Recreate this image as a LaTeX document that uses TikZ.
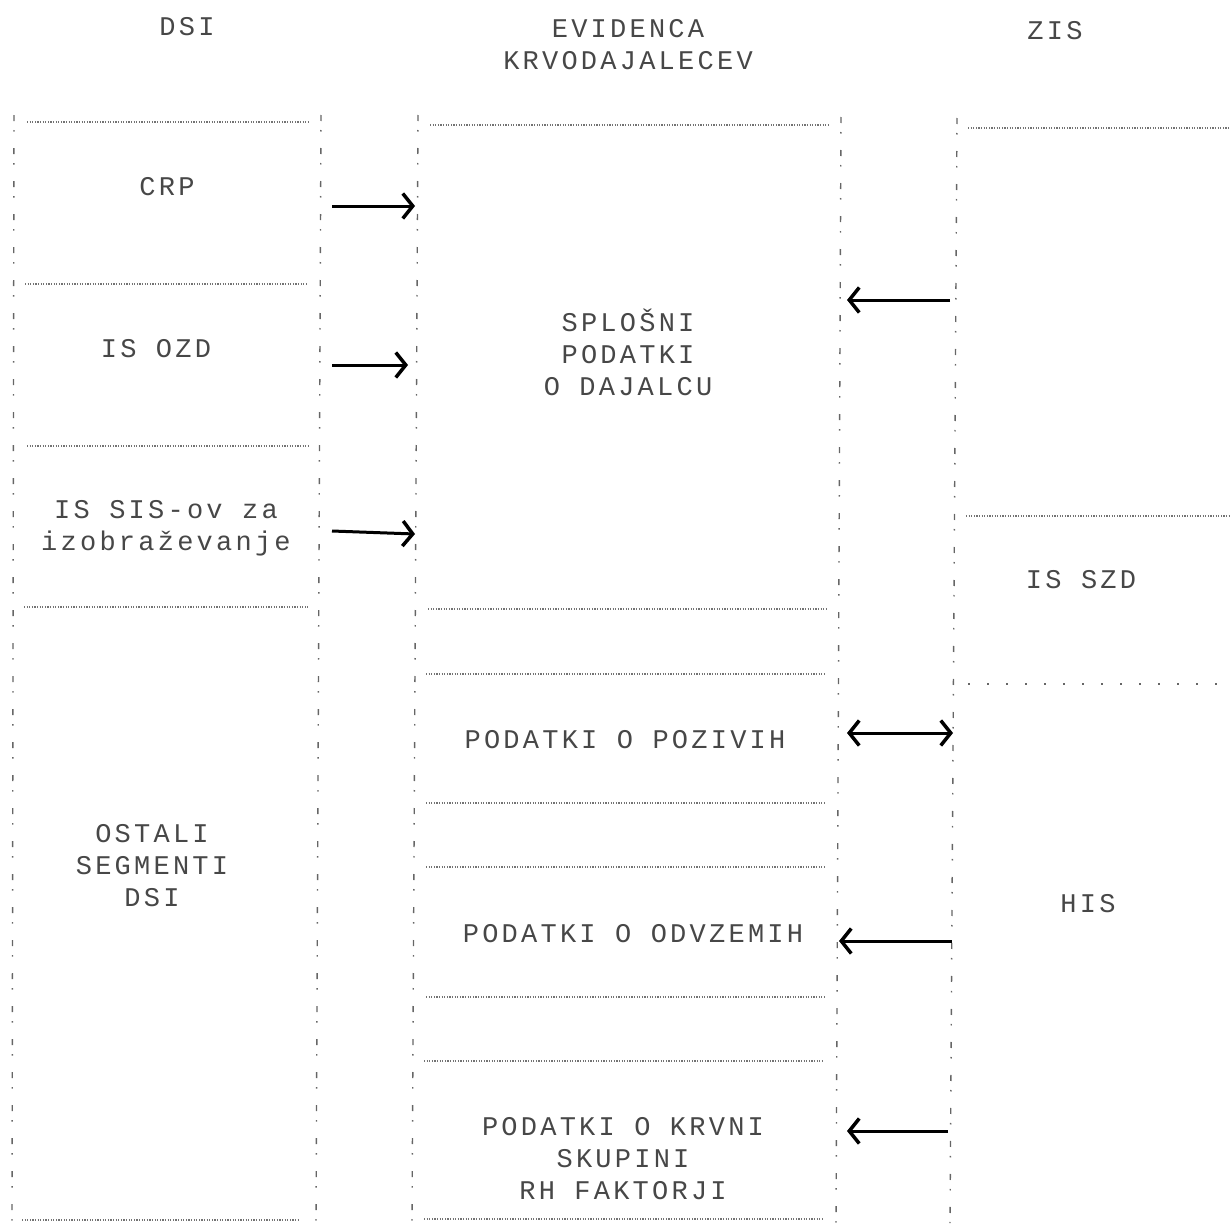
\documentclass[tikz,border=0pt]{standalone}
\usepackage{fontspec}
\newfontfamily\dm{Liberation Mono}[LetterSpace=12]
\usetikzlibrary{arrows.meta}
\begin{document}
\begin{tikzpicture}[x=1pt,y=-1pt,
  vline/.style={draw=black!60, line width=1.4pt, dash pattern=on 6pt off 9pt on 1.5pt off 16.5pt},
  hline/.style={draw=black!55, line width=1.1pt, dash pattern=on 1.2pt off 1.4pt},
  sparse/.style={draw=black!60, line width=2pt, dash pattern=on 2pt off 17pt},
  lbl/.style={font=\dm\fontsize{27}{32}\selectfont, text=black!72, align=center, inner sep=0pt},
  barb/.tip={Straight Barb[length=10pt,width=25pt,line width=3.5pt]},
  arr/.style={line width=3pt, -barb},
  darr/.style={line width=3pt, barb-barb}]
\useasboundingbox (0,0) rectangle (1230,1223);
% column titles
\node[lbl] (dsi) at (187,27) {DSI};
\node[lbl] (evid) at (628,45) {EVIDENCA\\KRVODAJALECEV};
\node[lbl] (zis) at (1055,31) {ZIS};
% left column
\draw[vline] (14,115) -- (12,1223);
\draw[vline] (321,115) -- (316,1223);
\draw[hline] (27,122) -- (309,122);
\draw[hline] (25,284) -- (308,284);
\draw[hline] (27,446) -- (308,446);
\draw[hline] (24,607) -- (308,607);
\draw[hline] (22,1220) -- (300,1220);
\node[lbl] (crp) at (167,187) {CRP};
\node[lbl] (ozd) at (156,349) {IS OZD};
\node[lbl] (sis) at (166,528) {IS SIS-ov za\\izobraževanje};
\node[lbl] (ost) at (152,866) {OSTALI\\SEGMENTI\\DSI};
% middle column
\draw[vline] (418,115) -- (412,1223);
\draw[vline] (841,117) -- (836,1223);
\draw[hline] (430,125) -- (830,125);
\draw[hline] (428,609) -- (826,609);
\draw[hline] (426,674) -- (826,674);
\draw[hline] (426,803) -- (826,803);
\draw[hline] (426,867) -- (826,867);
\draw[hline] (426,997) -- (824,997);
\draw[hline] (424,1061) -- (824,1061);
\draw[hline] (424,1219) -- (824,1219);
\node[lbl] (spl) at (628,352) {SPLOŠNI\\PODATKI\\O DAJALCU};
\node[lbl] (poz) at (625,740) {PODATKI O POZIVIH};
\node[lbl] (odv) at (633,934) {PODATKI O ODVZEMIH};
\node[lbl] (krv) at (623,1159) {PODATKI O KRVNI\\SKUPINI\\RH FAKTORJI};
% right column
\draw[vline] (957,118) -- (950,1223);
\draw[hline] (968,128) -- (1230,128);
\draw[hline] (966,516) -- (1230,516);
\draw[sparse] (968,684) -- (1230,684);
\node[lbl] (szd) at (1081,580) {IS SZD};
\node[lbl] (his) at (1088,904) {HIS};
% arrow ends
\coordinate (c1a) at (332,206); \coordinate (c1b) at (415,206);
\coordinate (c2a) at (332,365); \coordinate (c2b) at (408,365);
\coordinate (c3a) at (332,531); \coordinate (c3b) at (415,534);
\coordinate (c4a) at (950,300); \coordinate (c4b) at (847,300);
\coordinate (c5a) at (847,733); \coordinate (c5b) at (953,733);
\coordinate (c6a) at (952,941); \coordinate (c6b) at (839,941);
\coordinate (c7a) at (948,1131); \coordinate (c7b) at (847,1131);
\draw[arr] (c1a) -- (c1b);
\draw[arr] (c2a) -- (c2b);
\draw[arr] (c3a) -- (c3b);
\draw[arr] (c4a) -- (c4b);
\draw[darr] (c5a) -- (c5b);
\draw[arr] (c6a) -- (c6b);
\draw[arr] (c7a) -- (c7b);
\end{tikzpicture}
\end{document}
